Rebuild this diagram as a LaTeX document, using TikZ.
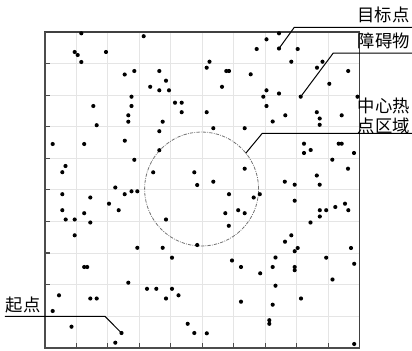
\documentclass[tikz,border=0pt]{standalone}
\usepackage{fontspec}
\newfontfamily\cjk{Noto Sans CJK SC}
\begin{document}
\begin{tikzpicture}[x=0.75pt,y=-0.75pt,
  lead/.style={draw=black,line width=0.75pt},
  lbl/.style={font=\cjk\fontsize{13pt}{15pt}\selectfont, inner sep=0pt, text=black},
  gridl/.style={draw=black!10, line width=0.6pt},
  tickl/.style={draw=black!70, line width=0.8pt},
  hot/.style={draw=black!55, line width=0.6pt, dash pattern=on 2.5pt off 0.9pt on 0.6pt off 0.9pt}]
\useasboundingbox (0,0) rectangle (412,351);
% grid
\foreach \i in {1,...,9} {
  \draw[gridl] (44.7+31.5*\i,32) -- (44.7+31.5*\i,347.7);
  \draw[gridl] (44.7,32+31.57*\i) -- (359.7,32+31.57*\i);
}
% ticks
\foreach \i in {1,...,9} {
  \draw[tickl] (44.7,32+31.57*\i) -- ++(5,0);
  \draw[tickl] (44.7+31.5*\i,347.7) -- ++(0,-5);
}
% frame
\draw[black!75, line width=0.8pt] (44.7,32) rectangle (359.7,347.7);
\draw[black!70, line width=1.4pt] (44.7,32) -- (44.7,347.7) -- (359.7,347.7);
% hot zone
\draw[hot] (201.6,189) circle[radius=42.75pt];
% obstacles
\foreach \x/\y in {81.3/33.3,74.7/52,77.7/55,81.3/62,106/52,124.7/74.5,134.3/71,159.3/71,166/80.7,150.2/86.8,
159.3/90.3,169/90.3,131.5/96.7,93.3/106,131.5/106,175/102.7,181.7/102.7,181.7/112.2,128.3/115.3,128.3/121.7,
162.7/121.7,96.7/125.2,159.3/131.2,52.7/144,84.2/144,124.8/140.7,159.3/150.2,134.3/159.8,65.5/166,62.3/172.2,
153.2/172.3,194.3/172.3,143.7/36.2,115.3/187.5,197.2/185,206.7/67.7,209.5/61.7,226.3/71,229/71,250.7/74.3,
222/86.8,266.5/90.3,279/93.5,263.3/96.7,266.5/106,206.7/112.2,272.7/121.5,213.3/128.2,244.7/128.2,244.7/168.7,
213.3/181.7,279/33.3,266.5/39.3,256.7/49,297.7/49,279/48.5,291.3/61.7,322.5/61.7,317/67.7,348.2/71,
329.3/83.8,300.7/96.7,357.5/96.7,285.3/115.3,316.8/112.2,319.7/118.5,319.7/124.8,341.7/115.3,304/143.7,304/153,
310.7/150,338.7/143.7,341.7/143.7,354/153,332.3/159.7,348/168.7,316.8/175.5,284.8/181.7,294.7/184.7,319.7/184.7,
62.3/194.2,90.3/197.5,109/203.7,118.7/210.2,124.7/194.2,131.5/191.3,137.3/191.3,62.3/210.2,84.2/213.2,65.7/219.5,
74.7/219.5,90.3/222.5,74.7/235.3,166/219.5,137.3/247.8,162.7/247.8,172/257.7,197.2/245,84.2/267,87.2/267,
128.3/282.7,59/295.3,90.3/298.5,96.7/298.5,147/288.8,156.3/288.8,172/288.8,166/298.5,178.5/295.3,52.7/311,
71.5/326.7,121.5/333,115.3/342.7,187.7/323.8,194.3/333,206.8/333.3,229/194.2,259.8/194.2,253.7/197.5,225.3/213.2,
238.2/210.2,244.7/213.2,228.8/225.8,232/260.5,241/267,260.2/273.3,275.5/257.5,272.7/267,275.5/285.7,241/301.7,
272.7/304.7,269.3/320.2,269.3/323.8,294.7/200.7,319.8/210.2,319.8/216.5,326.2/210.2,335.3/207,345/203.7,348.3/210.2,
310.5/222.5,291.3/235.3,285/241.7,294.7/251.2,297.7/248,351/248,326.2/257.7,354.2/263.8,294.7/267,294.7/270.2,
332.5/279.5,301/298.5,354.2/344}
  \fill[black] (\x,\y) circle[radius=1.55pt];
% labels
\node[lbl] (tgt) at (383.5,15) {目标点};
\node[lbl] (obs) at (384,41) {障碍物};
\node[lbl, align=center] (hotl) at (384,115.5) {中心热\\点区域};
\node[lbl] (st) at (23.3,305) {起点};
% leader lines
\coordinate (ptgt) at (279,48.5);
\coordinate (ktgt) at (294.3,27.3);
\coordinate (etgt) at (412,27.3);
\coordinate (pobs) at (300.7,96.7);
\coordinate (kobs) at (333.3,53);
\coordinate (eobs) at (412,53);
\coordinate (phot) at (245.7,153.3);
\coordinate (khot) at (262.3,133.3);
\coordinate (ehot) at (412,133.3);
\coordinate (pst) at (121.5,333);
\coordinate (kst) at (104.9,316.3);
\coordinate (est) at (5,316.3);
\draw[lead] (ptgt) -- (ktgt) -- (etgt);
\draw[lead] (pobs) -- (kobs) -- (eobs);
\draw[lead] (phot) -- (khot) -- (ehot);
\draw[lead] (pst) -- (kst) -- (est);
\end{tikzpicture}
\end{document}
